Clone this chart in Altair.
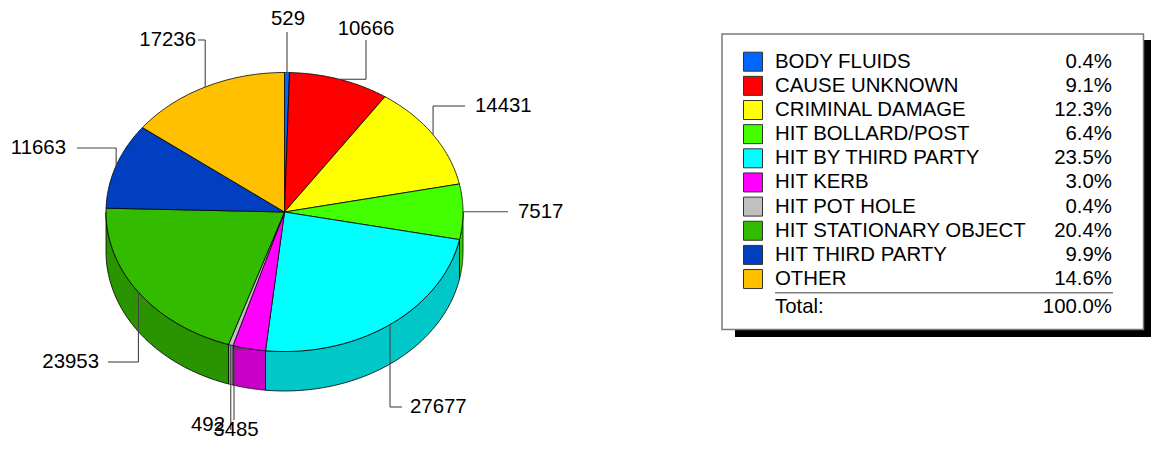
import altair as alt
import pandas as pd

# ---------------- data ----------------
categories = ["BODY FLUIDS", "CAUSE UNKNOWN", "CRIMINAL DAMAGE", "HIT BOLLARD/POST",
              "HIT BY THIRD PARTY", "HIT KERB", "HIT POT HOLE", "HIT STATIONARY OBJECT",
              "HIT THIRD PARTY", "OTHER"]
values = [529, 10666, 14431, 7517, 27677, 3485, 492, 23953, 11663, 17236]
percent_labels = ["0.4%", "9.1%", "12.3%", "6.4%", "23.5%", "3.0%", "0.4%", "20.4%", "9.9%", "14.6%"]
total_label = "Total:"
total_percent = "100.0%"

# ---------------- styles ----------------
top_colors = ["#0066FF", "#FF0000", "#FFFF00", "#44FF00", "#00FFFF",
              "#FF00FF", "#C0C0C0", "#33BB00", "#0040C0", "#FFC000"]
side_colors = ["#0052CC", "#CC0000", "#CCCC00", "#36CC00", "#00C8C8",
               "#C800C8", "#9A9A9A", "#2A9400", "#00339A", "#CC9A00"]

# ---------------- label layout (page px) ----------------
label_x = [288, 366, 475, 518, 410, 236, 225, 99, 66, 196]
label_y = [19, 28.5, 106, 212, 407, 430, 425, 362, 148, 40]
label_align = ["center", "center", "left", "left", "left", "center", "right", "right", "right", "right"]
corner_x = [-1, 366, -1, 508, -1, 234, -1, -1, -1, -1]
corner_y = [32, -1, 106, -1, 407, -1, 430, 362, 148, 40]
end_x = [-1, 366, 465, 508, 402, 234, -1, 108, 77, 198]
end_y = [32, 40, 106, -1, 407, 420, 430, 362, 148, 40]

# pie geometry (page px)
CX, CY, RX, RY, DEPTH, N = 284.5, 212.0, 178.5, 139.5, 39.5, 60
FONT = "Liberation Sans"
FS = 20.4

df = pd.DataFrame({
    "idx": list(range(len(categories))),
    "cat": categories,
    "value": values,
    "pct": percent_labels,
    "top": top_colors,
    "side": side_colors,
    "lx": label_x, "ly": label_y, "lalign": label_align,
    "cx_": corner_x, "cy_": corner_y, "ex_": end_x, "ey_": end_y,
})

xs = alt.Scale(domain=[8, 1151], nice=False, zero=False)
ys = alt.Scale(domain=[8, 442], nice=False, zero=False, reverse=True)

base = (alt.Chart(df)
        .transform_window(cum="sum(value)", sort=[alt.SortField("idx")], frame=[None, 0])
        .transform_joinaggregate(total="sum(value)")
        .transform_calculate(
            a0="2*PI*(datum.cum - datum.value)/datum.total",
            a1="2*PI*datum.cum/datum.total",
        ))

# ---- side walls (visible front half) ----
walls = (base
         .transform_calculate(b0="max(datum.a0, PI/2)", b1="min(datum.a1, 3*PI/2)")
         .transform_filter("datum.b1 > datum.b0")
         .transform_calculate(t=f"sequence(0, {2 * N + 3})")
         .transform_flatten(["t"])
         .transform_calculate(
             ang=(f"datum.t <= {N} ? datum.b0 + (datum.b1-datum.b0)*datum.t/{N} : "
                  f"(datum.t <= {2 * N + 1} ? datum.b1 - (datum.b1-datum.b0)*(datum.t-{N + 1})/{N} : datum.b0)"),
             off=f"(datum.t > {N} && datum.t <= {2 * N + 1}) ? {DEPTH} : 0",
         )
         .transform_calculate(
             px=f"{CX} + {RX}*sin(datum.ang)",
             py=f"{CY} - {RY}*cos(datum.ang) + datum.off",
         )
         .mark_line(stroke="black", strokeWidth=0.8, strokeJoin="round")
         .encode(
             x=alt.X("px:Q", scale=xs, axis=None),
             y=alt.Y("py:Q", scale=ys, axis=None),
             fill=alt.Fill("side:N", scale=None),
             detail="cat:N",
             order="t:Q",
         ))

# ---- top surface ----
tops = (base
        .transform_calculate(t=f"sequence(0, {N + 3})")
        .transform_flatten(["t"])
        .transform_calculate(
            ang=f"datum.a0 + (datum.a1-datum.a0)*(datum.t-1)/{N}",
            edge=f"(datum.t >= 1 && datum.t <= {N + 1}) ? 1 : 0",
        )
        .transform_calculate(
            px=f"{CX} + datum.edge*{RX}*sin(datum.ang)",
            py=f"{CY} - datum.edge*{RY}*cos(datum.ang)",
        )
        .mark_line(stroke="black", strokeWidth=0.8, strokeJoin="round")
        .encode(
            x=alt.X("px:Q", scale=xs, axis=None),
            y=alt.Y("py:Q", scale=ys, axis=None),
            fill=alt.Fill("top:N", scale=None),
            detail="cat:N",
            order="t:Q",
        ))

# ---- leader lines ----
lead = (base
        .transform_calculate(mid="(datum.a0 + datum.a1)/2")
        .transform_calculate(
            px=f"{CX} + {RX}*sin(datum.mid)",
            py=f"{CY} - {RY}*cos(datum.mid)",
        )
        .transform_calculate(
            qx="datum.cx_ >= 0 ? datum.cx_ : datum.px",
            qy="datum.cy_ >= 0 ? datum.cy_ : datum.py",
            rx="datum.ex_ >= 0 ? datum.ex_ : datum.px",
            ry="datum.ey_ >= 0 ? datum.ey_ : datum.py",
        ))
seg1 = lead.mark_rule(color="#454545", strokeWidth=1.1).encode(
    x=alt.X("px:Q", scale=xs, axis=None), y=alt.Y("py:Q", scale=ys, axis=None),
    x2="qx:Q", y2="qy:Q")
seg2 = lead.mark_rule(color="#454545", strokeWidth=1.1).encode(
    x=alt.X("qx:Q", scale=xs, axis=None), y=alt.Y("qy:Q", scale=ys, axis=None),
    x2="rx:Q", y2="ry:Q")

labels = []
for al in ["left", "center", "right"]:
    labels.append(
        alt.Chart(df).transform_filter(f"datum.lalign == '{al}'")
        .mark_text(align=al, baseline="middle", font=FONT, fontSize=FS, color="black")
        .encode(x=alt.X("lx:Q", scale=xs, axis=None), y=alt.Y("ly:Q", scale=ys, axis=None),
                text="value:Q")
    )

# ---- legend (layout frames) ----
shadow_df = pd.DataFrame({"x0": [735], "x1": [1157], "y0": [40], "y1": [337]})
box_df = pd.DataFrame({"x0": [722], "x1": [1143.5], "y0": [34], "y1": [329.5]})
sep_df = pd.DataFrame({"x0": [775], "x1": [1113], "y0": [292.7]})
tot_df = pd.DataFrame({"xl": [775], "xr": [1112], "y": [307],
                       "l": [total_label], "r": [total_percent]})

shadow = alt.Chart(shadow_df).mark_rect(color="black").encode(
    x=alt.X("x0:Q", scale=xs, axis=None), x2="x1:Q",
    y=alt.Y("y0:Q", scale=ys, axis=None), y2="y1:Q")
box = alt.Chart(box_df).mark_rect(fill="white", stroke="#7a7a7a", strokeWidth=1.5).encode(
    x=alt.X("x0:Q", scale=xs, axis=None), x2="x1:Q",
    y=alt.Y("y0:Q", scale=ys, axis=None), y2="y1:Q")
sep = alt.Chart(sep_df).mark_rule(color="#808080", strokeWidth=1.5).encode(
    x=alt.X("x0:Q", scale=xs, axis=None), x2="x1:Q",
    y=alt.Y("y0:Q", scale=ys, axis=None))
tot_l = alt.Chart(tot_df).mark_text(align="left", baseline="middle", font=FONT, fontSize=FS,
                                    color="black").encode(
    x=alt.X("xl:Q", scale=xs, axis=None), y=alt.Y("y:Q", scale=ys, axis=None), text="l:N")
tot_r = alt.Chart(tot_df).mark_text(align="right", baseline="middle", font=FONT, fontSize=FS,
                                    color="black").encode(
    x=alt.X("xr:Q", scale=xs, axis=None), y=alt.Y("y:Q", scale=ys, axis=None), text="r:N")

leg = (alt.Chart(df)
       .transform_calculate(
           ry0="61.7 + datum.idx*24.15",
           sx0="743.5", sx1="762.5", tx="775", px_="1112",
       )
       .transform_calculate(sy0="datum.ry0 - 9.5", sy1="datum.ry0 + 9.5"))
swatch = leg.mark_rect(stroke="#333333", strokeWidth=1).encode(
    x=alt.X("sx0:Q", scale=xs, axis=None), x2="sx1:Q",
    y=alt.Y("sy0:Q", scale=ys, axis=None), y2="sy1:Q",
    fill=alt.Fill("top:N", scale=None))
names = leg.mark_text(align="left", baseline="middle", font=FONT, fontSize=FS, color="black").encode(
    x=alt.X("tx:Q", scale=xs, axis=None), y=alt.Y("ry0:Q", scale=ys, axis=None), text="cat:N")
pcts = leg.mark_text(align="right", baseline="middle", font=FONT, fontSize=FS, color="black").encode(
    x=alt.X("px_:Q", scale=xs, axis=None), y=alt.Y("ry0:Q", scale=ys, axis=None), text="pct:N")

chart = alt.layer(
    walls, tops, seg1, seg2, *labels,
    shadow, box, sep, swatch, names, pcts, tot_l, tot_r,
).properties(
    width=1143, height=434, padding=0,
    autosize=alt.AutoSizeParams(type="none"),
).configure_view(stroke=None)

chart.save("out.html", embed_options={"renderer": "svg", "actions": False})
